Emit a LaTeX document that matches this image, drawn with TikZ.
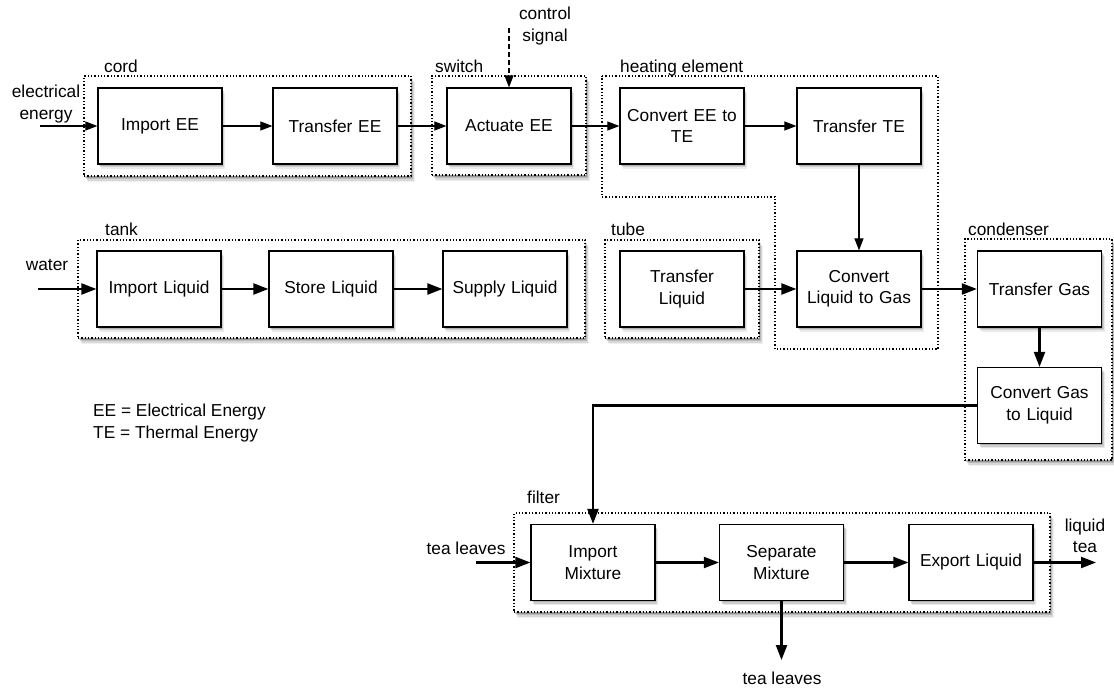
\documentclass[tikz,border=0pt]{standalone}
\usepackage{fontspec}
\setmainfont{Liberation Sans}
\usetikzlibrary{arrows.meta,shadows}
\begin{document}
\begin{tikzpicture}[x=1pt,y=-1pt,
  every node/.style={font=\fontsize{17.3}{21.5}\selectfont, inner sep=0pt},
  fn/.style={draw, line width=1.2pt, fill=white, minimum width=124pt, minimum height=76pt, align=center, text width=120pt,
    general shadow={fill=black, opacity=.14, shadow xshift=1pt, shadow yshift=-1.5pt},
    general shadow={fill=black, opacity=.12, shadow xshift=2pt, shadow yshift=-3pt},
    general shadow={fill=black, opacity=.08, shadow xshift=3pt, shadow yshift=-4.5pt}},
  grp/.style={draw=black, line width=1.3pt, dash pattern=on 1.3pt off 2pt, fill=white,
    general shadow={fill=black, opacity=.18, shadow xshift=1pt, shadow yshift=-1.5pt},
    general shadow={fill=black, opacity=.14, shadow xshift=2pt, shadow yshift=-3pt},
    general shadow={fill=black, opacity=.10, shadow xshift=3pt, shadow yshift=-4.5pt},
    general shadow={fill=black, opacity=.06, shadow xshift=4pt, shadow yshift=-6pt}},
  hpoly/.style={draw=black, line width=1.3pt, dash pattern=on 1.3pt off 2pt},
  glabel/.style={anchor=base west},
  thinar/.style={line width=1.1pt, -{Triangle[length=12pt,width=9pt]}},
  thickar/.style={line width=2.2pt, -{Triangle[length=15pt,width=11pt]}},
]
\useasboundingbox (0,0) rectangle (1114,688);

% group boxes
\node[grp, minimum width=327pt, minimum height=100pt] (cord) at (247.5,126) {};
\node[grp, minimum width=154pt, minimum height=99pt] (switch) at (509,125.5) {};
\node[grp, minimum width=507pt, minimum height=98pt] (tank) at (331.5,289) {};
\node[grp, minimum width=154pt, minimum height=98pt] (tube) at (682,289) {};
\node[grp, minimum width=147pt, minimum height=221pt] (cond) at (1038.5,349.5) {};
\node[grp, minimum width=536pt, minimum height=99pt] (filt) at (782,562.5) {};
\draw[hpoly] (602,76) -- (938,76) -- (938,349) -- (775,349) -- (775,197) -- (602,197) -- cycle;

% group labels
\node[glabel] (lcord) at (104,72) {cord};
\node[glabel] (lswitch) at (435,72) {switch};
\node[glabel] (lheat) at (620,72) {heating element};
\node[glabel] (ltank) at (105,235) {tank};
\node[glabel] (ltube) at (611,235) {tube};
\node[glabel] (lcond) at (968,235) {condenser};
\node[glabel] (lfilt) at (527,503) {filter};

% function boxes
\node[fn] (ie) at (160,126) {Import EE};
\node[fn] (te) at (335,126) {Transfer EE};
\node[fn] (ae) at (509,126) {Actuate EE};
\node[fn] (cet) at (682,126) {Convert EE to\\TE};
\node[fn] (tte) at (859,126) {Transfer TE};

\node[fn] (il) at (159,289) {Import Liquid};
\node[fn] (sl) at (331,289) {Store Liquid};
\node[fn] (sul) at (505,289) {Supply Liquid};
\node[fn] (tl) at (682,289) {Transfer\\Liquid};
\node[fn] (clg) at (859,289) {Convert\\Liquid to Gas};
\node[fn] (tg) at (1039.5,289) {Transfer Gas};
\node[fn] (cgl) at (1039.5,405.5) {Convert Gas\\to Liquid};

\node[fn] (im) at (593,562.5) {Import\\Mixture};
\node[fn] (sm) at (781.5,562.5) {Separate\\Mixture};
\node[fn] (el) at (971,562.5) {Export Liquid};

% free texts
\node[align=center] (tee) at (46,104) {electrical\\energy};
\node[align=center] (tcs) at (545,26) {control\\signal};
\node (twater) at (47,265) {water};
\node (ttlin) at (466,548) {tea leaves};
\node (ttlout) at (782,678) {tea leaves};
\node[align=center] (tlt) at (1085,536) {liquid\\tea};
\node[align=left, anchor=west] (legend) at (93,423) {EE = Electrical Energy\\TE = Thermal Energy};

% free ends
\coordinate (eein) at (40,126);
\coordinate (csin) at (509,28);
\coordinate (win) at (38,289);
\coordinate (tlin) at (476,562.5);
\coordinate (tlout) at (781.5,660);
\coordinate (ltout) at (1096,562.5);

% connectors
\draw[thinar] (eein) -- (ie);
\draw[thinar] (ie) -- (te);
\draw[thinar] (te) -- (ae);
\draw[thinar] (ae) -- (cet);
\draw[thinar] (cet) -- (tte);
\draw[thinar] (tte) -- (clg);
\draw[thinar, dash pattern=on 5pt off 3pt] (csin) -- (ae);

\draw[thickar] (win) -- (il);
\draw[thickar] (il) -- (sl);
\draw[thickar] (sl) -- (sul);
\draw[thickar] (tl) -- (clg);
\draw[thickar] (clg) -- (tg);
\draw[thickar] (tg) -- (cgl);
\draw[thickar] (cgl.west) -| (im.north);

\draw[thickar] (tlin) -- (im);
\draw[thickar] (im) -- (sm);
\draw[thickar] (sm) -- (el);
\draw[thickar] (sm) -- (tlout);
\draw[thickar] (el) -- (ltout);
\end{tikzpicture}
\end{document}
